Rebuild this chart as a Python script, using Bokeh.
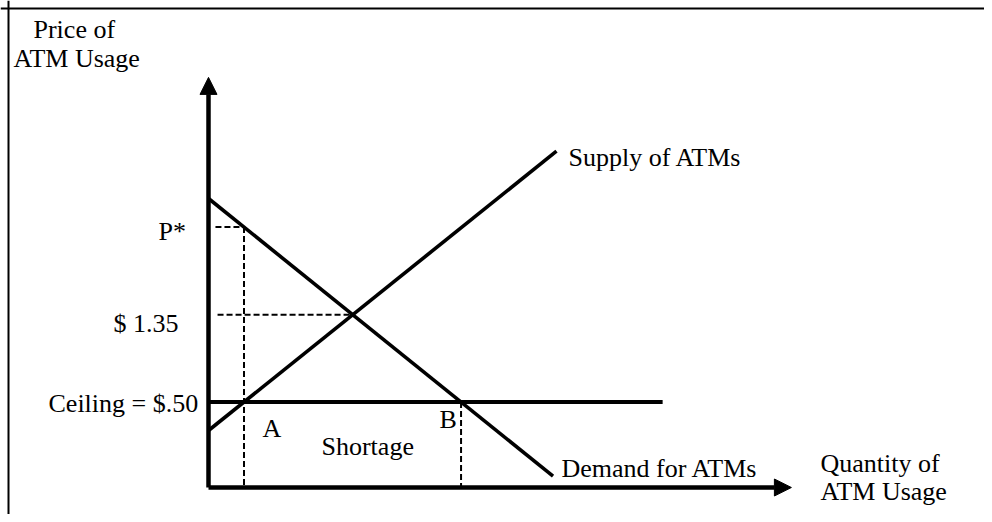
from bokeh.plotting import figure
from bokeh.models import Range1d, Arrow, NormalHead, Span
from bokeh.core.properties import value
from bokeh.embed import file_html
from bokeh.resources import INLINE

# ---- data (diagram units: quantity q, price index p) ----
supply_q = [0.0, 10.0]
supply_p = [2.0, 11.8]
demand_q = [0.0, 9.9]
demand_p = [10.14, 0.4]
ceiling_price = 3.0
ceiling_end_q = 13.05
axis_end_q = 16.75
axis_end_p = 14.39

price_labels = ["P*", "$ 1.35", "Ceiling = $.50"]
curve_labels = ["Supply of ATMs", "Demand for ATMs"]
point_labels = ["A", "B"]
region_label = "Shortage"
y_title = ["Price of", "ATM Usage"]
x_title = ["Quantity of", "ATM Usage"]

# derived points
s_slope = (supply_p[1] - supply_p[0]) / (supply_q[1] - supply_q[0])
d_slope = (demand_p[1] - demand_p[0]) / (demand_q[1] - demand_q[0])
q_eq = (demand_p[0] - supply_p[0]) / (s_slope - d_slope)
p_eq = supply_p[0] + s_slope * q_eq
q_A = (ceiling_price - supply_p[0]) / s_slope
q_B = (ceiling_price - demand_p[0]) / d_slope
p_star = demand_p[0] + d_slope * q_A

# ---- layout / scale ----
W, H = 984, 514
SX, SY = 34.8, 28.5          # px per unit
OX, OY = 208, 487            # origin in figure px (from top-left)
x0 = -OX / SX
x1 = (W - OX) / SX
y0 = -(H - OY) / SY
y1 = OY / SY

def at(px_x, px_y):
    return ((px_x - OX) / SX, (OY - px_y) / SY)

p = figure(width=W, height=H, output_backend="svg", toolbar_location=None,
           x_range=Range1d(x0, x1), y_range=Range1d(y0, y1),
           min_border=0, outline_line_color=None)
p.axis.visible = False
p.grid.visible = False
p.background_fill_color = "white"
p.border_fill_color = "white"

# frame border (top and left)
p.add_layout(Span(location=at(0, 8)[1], dimension="width", line_color="black", line_width=2))
p.add_layout(Span(location=at(8, 0)[0], dimension="height", line_color="black", line_width=2))

# axes with arrows
p.add_layout(Arrow(x_start=0, y_start=0, x_end=0, y_end=axis_end_p, line_width=4.5,
                   end=NormalHead(size=17, fill_color="black", line_color="black", line_width=1)))
p.add_layout(Arrow(x_start=0, y_start=0, x_end=axis_end_q, y_end=0, line_width=4.5,
                   end=NormalHead(size=17, fill_color="black", line_color="black", line_width=1)))

# curves
p.line(supply_q, supply_p, line_color="black", line_width=3.6)
p.line(demand_q, demand_p, line_color="black", line_width=3.6)
p.line([0, ceiling_end_q], [ceiling_price, ceiling_price], line_color="black", line_width=4)

# dashed guides
dash = dict(line_color="black", line_width=2, line_dash="6 3")
p.line([0.2, q_A], [p_star, p_star], **dash)
p.line([q_A, q_A], [p_star, 0], **dash)
p.line([0.26, q_eq], [p_eq, p_eq], **dash)
p.line([q_B, q_B], [ceiling_price, 0], **dash)

font = value("Liberation Serif")
fs = value("26px")

def label(txt, px_x, px_y):
    x, y = at(px_x, px_y)
    p.text(x=[x], y=[y], text=[txt], text_font=font, text_font_size=fs,
           text_align="left", text_baseline="alphabetic", text_color="black")

label(y_title[0], 33, 29)
label(y_title[1], 13, 58)
label(curve_labels[0], 568, 157)
label(price_labels[0], 158, 231)
label(price_labels[1], 113, 323)
label(price_labels[2], 48, 403)
label(point_labels[0], 262, 428)
label(region_label, 321, 446)
label(point_labels[1], 439, 419)
label(curve_labels[1], 561, 468)
label(x_title[0], 820, 463)
label(x_title[1], 820, 491)

open("out.html", "w").write(file_html(p, INLINE))
